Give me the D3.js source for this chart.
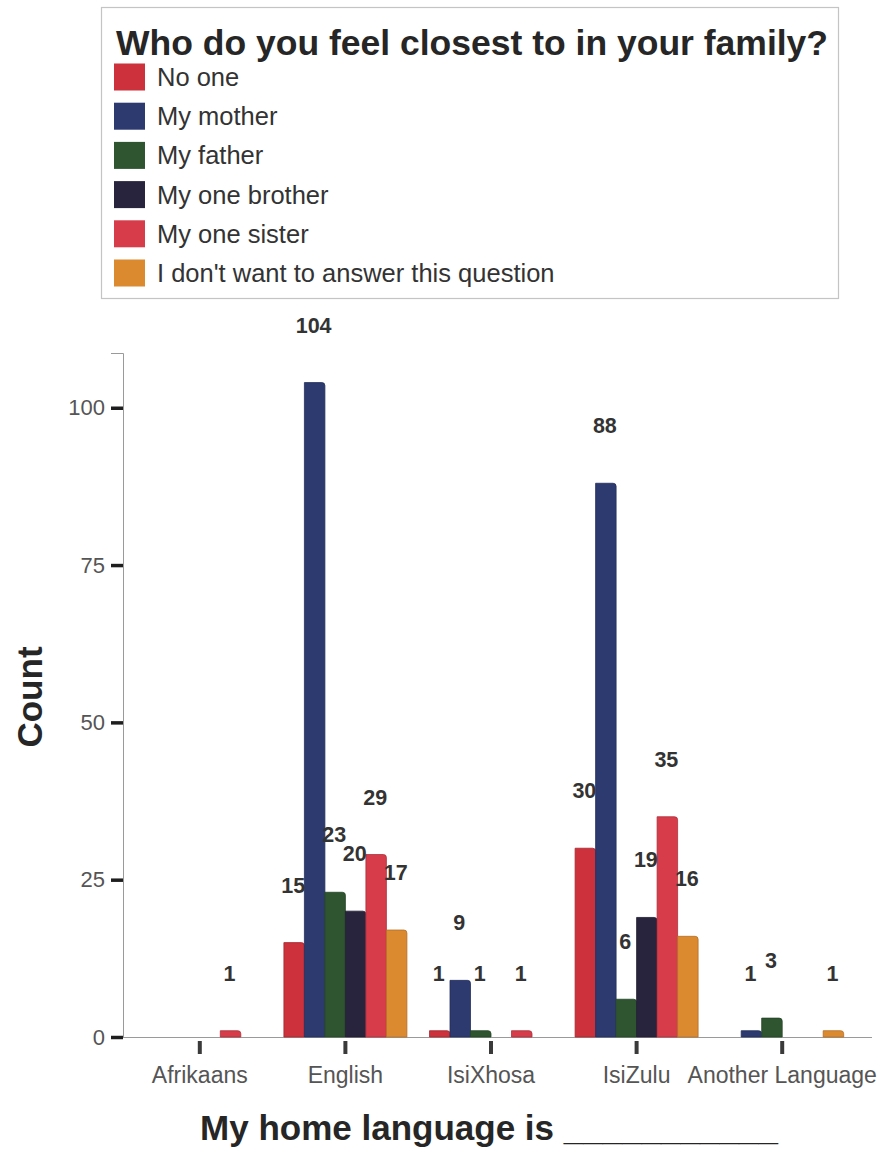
<!DOCTYPE html>
<html>
<head>
<meta charset="utf-8">
<script src="https://cdn.jsdelivr.net/npm/d3@7"></script>
<style>
  html, body { margin: 0; padding: 0; background: #fff; }
  svg { display: block; font-family: "Liberation Sans", Arial, sans-serif; }
</style>
</head>
<body>
<svg id="chart" width="884" height="1153"></svg>
<script>
// Home language (x) by the family member each respondent feels closest to (series)
const categories = ["Afrikaans", "English", "IsiXhosa", "IsiZulu", "Another Language"];
const seriesNames = ["No one", "My mother", "My father", "My one brother", "My one sister", "I don't want to answer this question"];
const seriesColors = ["#cc313c", "#2c3a6f", "#2e5530", "#29243d", "#d63c49", "#dc8a30"];

const noOne      = [0, 15, 1, 30, 0];
const myMother   = [0, 104, 9, 88, 1];
const myFather   = [0, 23, 1, 6, 3];
const myBrother  = [0, 20, 0, 19, 0];
const mySister   = [1, 29, 1, 35, 0];
const noAnswer   = [0, 17, 0, 16, 1];
const seriesValues = [noOne, myMother, myFather, myBrother, mySister, noAnswer];

const yTicks = [0, 25, 50, 75, 100];
const yMax = 108.7;

const legendTitle = "Who do you feel closest to in your family?";
const yTitle = "Count";
const xTitle = "My home language is ___________";

const FONT = "\"Liberation Sans\", Arial, sans-serif";
const svg = d3.select("#chart");

// ---- legend box ----
const legend = svg.append("g").attr("class", "legend");
legend.append("rect")
  .attr("x", 101.5).attr("y", 7.5).attr("width", 737).attr("height", 291)
  .attr("fill", "#fff").attr("stroke", "#c4c4c4").attr("stroke-width", 1.2);
legend.append("text")
  .attr("x", 116).attr("y", 55)
  .attr("font-size", 35.5).attr("font-weight", "bold").attr("fill", "#262626")
  .text(legendTitle);

const legendRow = d3.scalePoint().domain(seriesNames).range([77, 273]);
const swatchH = 27;
const items = legend.selectAll("g.item").data(seriesNames).join("g").attr("class", "item")
  .attr("transform", d => `translate(0,${legendRow(d)})`);
items.append("rect")
  .attr("x", 114).attr("y", -swatchH / 2).attr("width", 31).attr("height", swatchH)
  .attr("fill", (d, i) => seriesColors[i]);
items.append("text")
  .attr("x", 157).attr("y", 9)
  .attr("font-size", 25.5).attr("fill", "#333")
  .text(d => d);

// ---- scales ----
const y = d3.scaleLinear().domain([0, yMax]).range([1037, 353]);
const x0 = d3.scaleBand().domain(categories).range([127, 855]).padding(0);
const groupWidth = 123;
const x1 = d3.scaleBand().domain(seriesNames).range([0, groupWidth]).padding(0);
const groupLeft = c => x0(c) + x0.bandwidth() / 2 - groupWidth / 2;

// ---- y axis ----
const yAxis = svg.append("g").attr("transform", "translate(123,0)")
  .call(d3.axisLeft(y).tickValues(yTicks).tickSize(12).tickPadding(6).tickFormat(d3.format("d")));
yAxis.select(".domain").attr("stroke", "#9a9a9a").attr("stroke-width", 1);
yAxis.selectAll(".tick line").attr("stroke", "#1e1e1e").attr("stroke-width", 3.5);
yAxis.selectAll(".tick text").attr("font-size", 22).attr("fill", "#555")
  .attr("font-family", FONT);

// ---- x axis ----
svg.append("line")
  .attr("x1", 123).attr("x2", 872).attr("y1", y(0) + 0.5).attr("y2", y(0) + 0.5)
  .attr("stroke", "#9a9a9a").attr("stroke-width", 1);
const xAxis = svg.append("g").attr("transform", `translate(0,${y(0) + 4})`)
  .call(d3.axisBottom(x0).tickSize(13).tickPadding(13));
xAxis.select(".domain").remove();
xAxis.selectAll(".tick line").attr("stroke", "#3a3a3a").attr("stroke-width", 4);
xAxis.selectAll(".tick text").attr("font-size", 23).attr("fill", "#555")
  .attr("font-family", FONT);

// ---- bars ----
const barData = [];
categories.forEach((c, ci) => {
  seriesNames.forEach((s, si) => {
    const v = seriesValues[si][ci];
    if (v > 0) barData.push({ category: c, series: s, value: v, color: seriesColors[si] });
  });
});

const bars = svg.append("g").attr("class", "bars");
bars.selectAll("path").data(barData).join("path")
  .attr("d", d => {
    const x = groupLeft(d.category) + x1(d.series);
    const w = x1.bandwidth();
    const top = y(d.value);
    const bottom = y(0);
    const r = Math.min(3, (bottom - top) / 2);
    return `M${x},${bottom}V${top}H${x + w - r}Q${x + w},${top} ${x + w},${top + r}V${bottom}Z`;
  })
  .attr("fill", d => d.color)
  .attr("stroke", d => d3.color(d.color).darker(0.6))
  .attr("stroke-width", 0.8);

// ---- value labels ----
svg.append("g").attr("class", "labels").selectAll("text").data(barData).join("text")
  .attr("x", d => groupLeft(d.category) + x1(d.series) + x1.bandwidth() / 2 - 1)
  .attr("y", d => y(d.value) - 50)
  .attr("text-anchor", "middle")
  .attr("font-size", 21.5).attr("font-weight", "bold").attr("fill", "#333")
  .text(d => d.value);

// ---- axis titles ----
svg.append("text")
  .attr("transform", "translate(42,697) rotate(-90)")
  .attr("text-anchor", "middle")
  .attr("font-size", 35).attr("font-weight", "bold").attr("fill", "#262626")
  .text(yTitle);

svg.append("text")
  .attr("x", 489).attr("y", 1140)
  .attr("text-anchor", "middle")
  .attr("font-size", 35).attr("font-weight", "bold").attr("fill", "#262626")
  .text(xTitle);
</script>
</body>
</html>
